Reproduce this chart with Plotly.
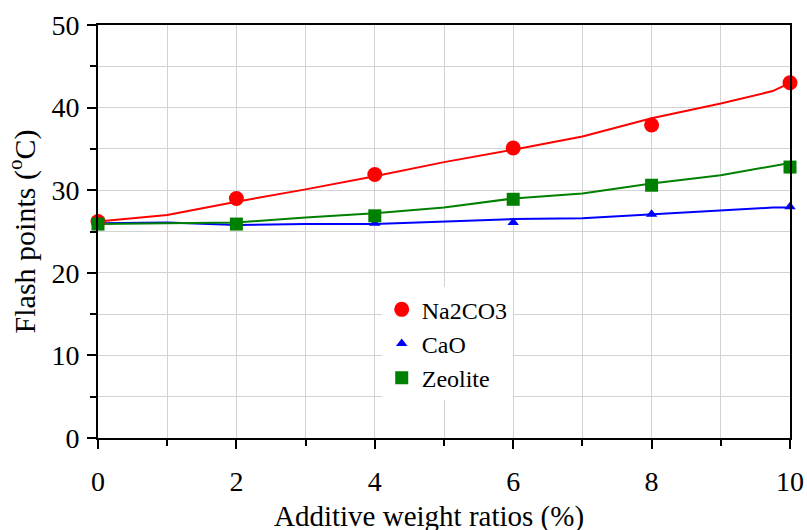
import plotly.graph_objects as go

# measured data points
ratios = [0, 2, 4, 6, 8, 10]
na2co3 = [26.2, 29.0, 31.9, 35.1, 37.9, 43.0]
cao = [26.0, 25.8, 26.0, 26.1, 27.1, 28.0]
zeolite = [25.9, 25.9, 26.9, 28.9, 30.6, 32.8]

# trend lines
trend_x = [0, 1, 2, 3, 4, 5, 6, 7, 8, 9, 9.75, 10]
na2co3_trend = [26.2, 27.0, 28.6, 30.1, 31.7, 33.4, 34.9, 36.5, 38.7, 40.5, 42.0, 43.0]
cao_trend = [26.0, 26.1, 25.8, 25.9, 25.9, 26.2, 26.5, 26.6, 27.1, 27.6, 27.9, 27.9]
zeolite_trend = [25.9, 26.0, 26.1, 26.7, 27.2, 27.9, 29.0, 29.6, 30.8, 31.8, 32.9, 33.3]

x_title = "Additive weight ratios (%)"
y_title = "Flash points (<sup>o</sup>C)"

FONT = "Liberation Serif"

fig = go.Figure()
for y, c in [(na2co3_trend, "#ff0000"), (cao_trend, "#0000ff"), (zeolite_trend, "#008000")]:
    fig.add_trace(go.Scatter(x=trend_x, y=y, mode="lines", line=dict(color=c, width=2),
                             showlegend=False, cliponaxis=False, hoverinfo="skip"))

fig.add_trace(go.Scatter(x=ratios, y=na2co3, mode="markers", name="Na2CO3",
                         marker=dict(symbol="circle", size=15, color="#ff0000"), cliponaxis=False))
fig.add_trace(go.Scatter(x=ratios, y=cao, mode="markers", name="CaO",
                         marker=dict(symbol="triangle-up", size=10, color="#0000ff"), cliponaxis=False))
fig.add_trace(go.Scatter(x=ratios, y=zeolite, mode="markers", name="Zeolite",
                         marker=dict(symbol="square", size=13, color="#008000"), cliponaxis=False))

grid = "#d3d3d3"
fig.update_layout(
    width=807, height=530,
    margin=dict(l=98, r=17, t=25, b=92, autoexpand=False),
    paper_bgcolor="white", plot_bgcolor="white",
    font=dict(family=FONT, size=28, color="black"),
    showlegend=True,
    legend=dict(x=0.41, y=0.365, xanchor="left", yanchor="top",
                bgcolor="white", font=dict(family=FONT, size=24),
                itemsizing="trace", tracegroupgap=0, entrywidth=150),
    xaxis=dict(range=[0, 10], tickvals=[0, 2, 4, 6, 8, 10], ticks="outside", ticklen=9, tickwidth=2,
               tickcolor="black", showline=True, linecolor="black", linewidth=2, mirror=True,
               showgrid=True, gridcolor=grid, gridwidth=1, zeroline=False, automargin=False,
               ticklabelstandoff=8,
               minor=dict(dtick=1, ticks="outside", ticklen=6, tickwidth=2, tickcolor="black",
                          showgrid=True, gridcolor=grid, gridwidth=1),
               tickfont=dict(family=FONT, size=28)),
    yaxis=dict(range=[0, 50], tickvals=[0, 10, 20, 30, 40, 50], ticks="outside", ticklen=9, tickwidth=2,
               tickcolor="black", showline=True, linecolor="black", linewidth=2, mirror=True,
               showgrid=True, gridcolor=grid, gridwidth=1, zeroline=False, automargin=False,
               ticklabelstandoff=2,
               minor=dict(dtick=5, ticks="outside", ticklen=6, tickwidth=2, tickcolor="black",
                          showgrid=True, gridcolor=grid, gridwidth=1),
               title=dict(text=y_title, standoff=7, font=dict(family=FONT, size=30)),
               tickfont=dict(family=FONT, size=28)),
    annotations=[dict(text=x_title, xref="paper", yref="paper", x=0.478, y=-0.191,
                      xanchor="center", yanchor="middle", showarrow=False,
                      font=dict(family=FONT, size=29))],
)
fig.write_html("out.html")
